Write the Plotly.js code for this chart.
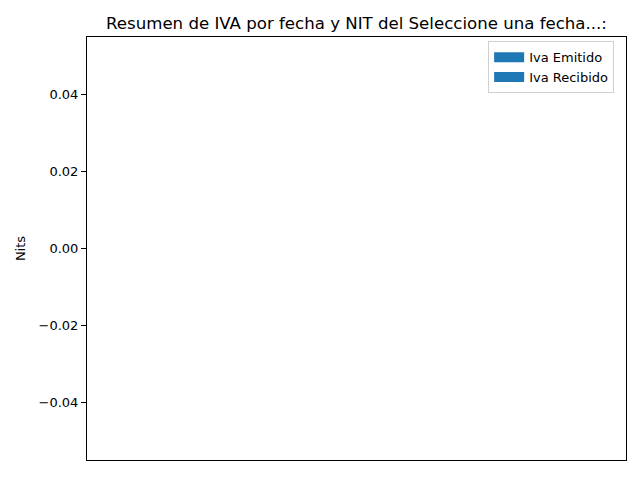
<!DOCTYPE html>
<html>
<head>
<meta charset="utf-8">
<script src="https://cdn.plot.ly/plotly-3.0.1.min.js"></script>
<style>html,body{margin:0;padding:0;background:#fff;}#chart{width:640px;height:480px;}</style>
</head>
<body>
<div id="chart"></div>
<script>
// Data (the reference chart has no data: "Seleccione una fecha...")
const nits = [];
const ivaEmitido = [];
const ivaRecibido = [];
const seriesNames = ["Iva Emitido", "Iva Recibido"];
const seriesColor = "#1f77b4";
const chartTitle = "Resumen de IVA por fecha y NIT del Seleccione una fecha...:";
const yLabel = "Nits";

// Plotly drops completely empty traces from the legend; a single null keeps the entry without drawing anything.
const orNull = a => (a.length ? a : [null]);

const font = "DejaVu Sans, sans-serif";
const series = [ivaEmitido, ivaRecibido];
const traces = [];
series.forEach((vals, i) => {
  // the bars themselves
  traces.push({type: "bar", name: seriesNames[i], legendgroup: "g" + i, x: orNull(nits), y: orNull(vals),
    marker: {color: seriesColor}, showlegend: false});
  // legend entry drawn as a wide filled patch (matplotlib style)
  traces.push({type: "scatter", mode: "lines", name: seriesNames[i], legendgroup: "g" + i, x: orNull(nits), y: orNull(vals),
    line: {color: seriesColor, width: 10}, showlegend: true, hoverinfo: "skip"});
});
const layout = {
  width: 640, height: 480,
  margin: {l: 87, r: 14, t: 37, b: 20, pad: 0},
  paper_bgcolor: "#fff", plot_bgcolor: "#fff",
  font: {family: font, size: 13, color: "#000"},
  title: {text: chartTitle, font: {family: font, size: 16.6, color: "#000"}, x: 0.5, xref: "paper", xanchor: "center", y: 1, yref: "paper", yanchor: "bottom", pad: {b: 8}},
  showlegend: true,
  legend: {x: 0.978, y: 0.99, xanchor: "right", yanchor: "top", bgcolor: "#fff", bordercolor: "#d0d0d0", borderwidth: 1,
    font: {family: font, size: 13, color: "#000"}, tracegroupgap: 0, itemwidth: 30},
  xaxis: {showline: true, mirror: true, linecolor: "#000", linewidth: 1, showgrid: false, zeroline: false, showticklabels: false, ticks: "", range: [0, 1], fixedrange: true},
  yaxis: {showline: true, mirror: true, linecolor: "#000", linewidth: 1, showgrid: false, zeroline: false, range: [-0.055, 0.055], tick0: 0, dtick: 0.02, tickformat: ".2f", ticks: "outside", ticklen: 5, tickcolor: "#000", tickfont: {family: font, size: 13, color: "#000"},
    title: {text: yLabel, font: {family: font, size: 13, color: "#000"}, standoff: 10}}
};
Plotly.newPlot("chart", traces, layout, {displayModeBar: false, staticPlot: true});
</script>
</body>
</html>
